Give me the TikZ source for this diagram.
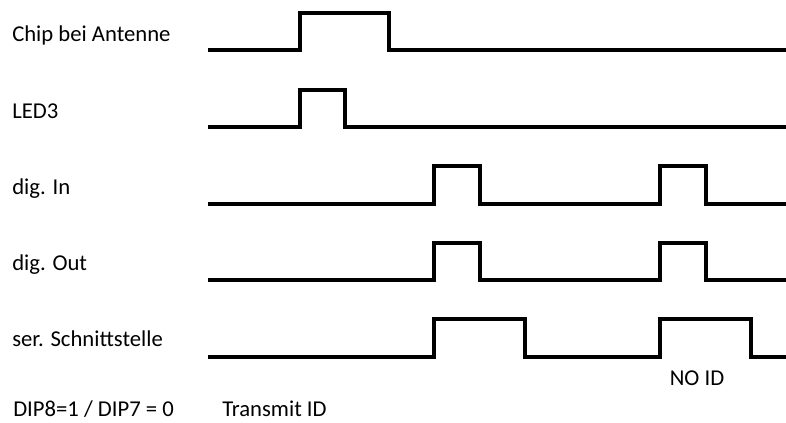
\documentclass[tikz,border=0pt]{standalone}
\usepackage{fontspec}
\setmainfont{Carlito}
\usepackage{tikz}

\tikzset{
    signal/.style={line width=3.3pt},
    sigtext/.style={anchor=base west, inner sep=0pt, font=\fontsize{17}{20}\selectfont}
}

\begin{document}
\begin{tikzpicture}[x=0.75pt, y=-0.75pt]
                \useasboundingbox (0,0) rectangle (786,423);

                \node[sigtext] (chip) at (12,42) {Chip bei Antenne};
                \draw[signal] (208,50) -- (300,50) -- (300,13) -- (389,13) -- (389,50) -- (786,50);

                \node[sigtext] (led) at (12,119) {LED3};
                \draw[signal] (208,127) -- (300,127) -- (300,90) -- (345,90) -- (345,127) -- (786,127);

                \node[sigtext] (digin) at (12,195) {dig. In};
                \draw[signal] (208,204) -- (434,204) -- (434,166) -- (480,166) -- (480,204)
                              -- (660,204) -- (660,166) -- (706,166) -- (706,204) -- (786,204);

                \node[sigtext] (digout) at (12,271) {dig. Out};
                \draw[signal] (208,280) -- (434,280) -- (434,243) -- (480,243) -- (480,280)
                              -- (660,280) -- (660,243) -- (706,243) -- (706,280) -- (786,280);

                \node[sigtext] (ser) at (12,347) {ser. Schnittstelle};
                \draw[signal] (208,357) -- (434,357) -- (434,319) -- (525,319) -- (525,357)
                              -- (660,357) -- (660,319) -- (751,319) -- (751,357) -- (786,357);

                \node[sigtext, anchor=base] (noid) at (697,386) {NO ID};

                \node[sigtext] (dip) at (13,417) {DIP8=1 / DIP7 = 0};
                \node[sigtext] (transmit) at (222,417) {Transmit ID};
\end{tikzpicture}
\end{document}
